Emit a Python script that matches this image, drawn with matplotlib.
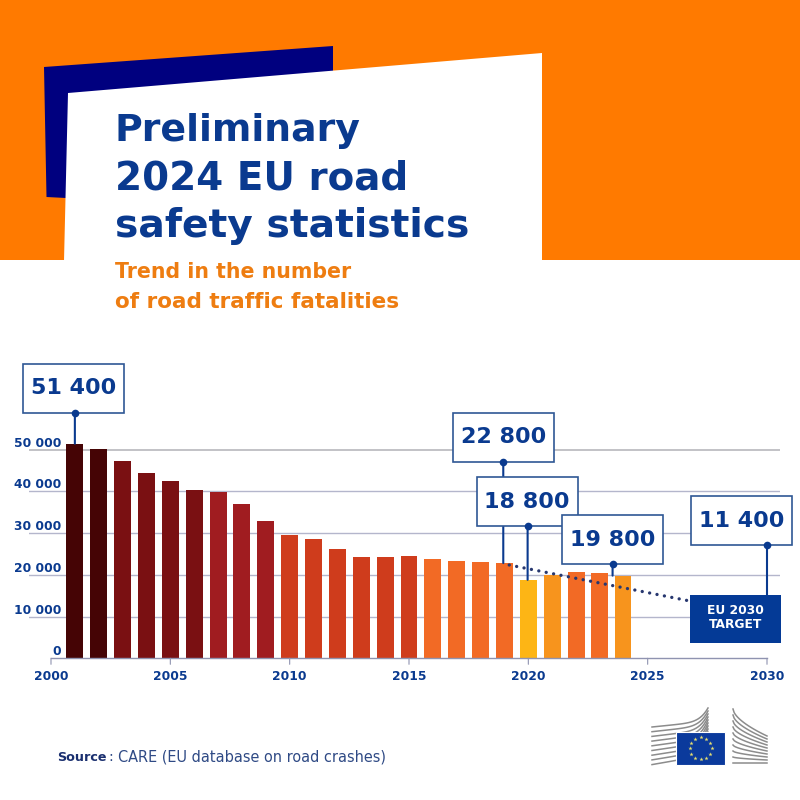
import numpy as np
import matplotlib
matplotlib.use('Agg')
import matplotlib.pyplot as plt
from matplotlib.patches import Polygon, Rectangle
from matplotlib.transforms import blended_transform_factory

# data
years = list(range(2001, 2025))
fatalities = [51400, 50200, 47250, 44460, 42470, 40310, 39830, 36880, 32800, 29600, 28500, 26180,
              24190, 24190, 24430, 23700, 23300, 23140, 22800, 18800, 19950, 20600, 20350, 19800]
bar_colors = ['#450405', '#450405',
              '#7a1012', '#7a1012', '#7a1012', '#7a1012',
              '#a01c20', '#a01c20', '#a01c20',
              '#cf3c1c', '#cf3c1c', '#cf3c1c', '#cf3c1c', '#cf3c1c', '#cf3c1c',
              '#f26a25', '#f26a25', '#f26a25', '#f26a25',
              '#fdb515', '#f7941d', '#f26a25', '#f26a25', '#f7941d']
trend_years = [2019.2, 2026.7]
trend_values = [22350, 13800]
x_ticks = [2000, 2005, 2010, 2015, 2020, 2025, 2030]
y_ticks = [0, 10000, 20000, 30000, 40000, 50000]
y_tick_labels = ['0', '10 000', '20 000', '30 000', '40 000', '50 000']

callout_labels = ['51 400', '22 800', '18 800', '19 800', '11 400']
callout_years = [2001, 2018.95, 2019.97, 2023.53, 2030]
callout_values = [51400, 22800, 18800, 19800, 11400]

blue = '#0a3a8f'
navy = '#00007f'
orange = '#ff7a00'
sub_orange = '#ee7d11'
font = 'DejaVu Sans'

plt.rcParams['font.family'] = [font]
fig = plt.figure(figsize=(8, 8), dpi=100, facecolor='white')

# page background, in pixels
bg = fig.add_axes([0, 0, 1, 1], zorder=0)
bg.set_xlim(0, 800)
bg.set_ylim(800, 0)
bg.axis('off')
bg.add_patch(Rectangle((0, 0), 800, 260, color=orange, lw=0))
bg.add_patch(Polygon([(44, 67), (333, 46), (333, 90), (66, 198), (46.5, 197)], color=navy, lw=0))
bg.add_patch(Polygon([(64, 261), (68, 93), (542, 53), (542, 261)], color='white', lw=0))

bg.text(115, 141, 'Preliminary', color=blue, fontsize=27.3, fontweight='bold', va='baseline')
bg.text(115, 189, '2024 EU road', color=blue, fontsize=28, fontweight='bold', va='baseline')
bg.text(115, 237, 'safety statistics', color=blue, fontsize=28.3, fontweight='bold', va='baseline')
bg.text(115, 278, 'Trend in the number', color=sub_orange, fontsize=14.8, fontweight='bold', va='baseline')
bg.text(115, 308, 'of road traffic fatalities', color=sub_orange, fontsize=15.5, fontweight='bold', va='baseline')

# chart
ax = fig.add_axes([29 / 800, 1 - 658.3 / 800, 751 / 800, 308.3 / 800], zorder=1)
ax.patch.set_alpha(0)
ax.set_xlim(2000 - 22 / 23.87, 2030 + 13 / 23.87)
ax.set_ylim(0, 308.3 / 41.75 * 10000)
for s in ['top', 'left', 'right', 'bottom']:
    ax.spines[s].set_visible(False)
ax.set_xticks([])
ax.set_yticks([])

for v in y_ticks[1:]:
    c = '#bdbdc2' if v == 50000 else '#b4b6cc'
    ax.axhline(v, color=c, lw=1.3 if v == 50000 else 1.0, zorder=1)

widths = [0.71] * 23 + [0.66]
lefts = [y - 0.355 for y in years]
ax.bar(lefts, fatalities, width=widths, align='edge', color=bar_colors, zorder=2)

# x axis
ax.plot([x_ticks[0], x_ticks[-1]], [0, 0], color='#8f93b0', lw=1.0, zorder=3, clip_on=False)
tick_tr = ax.get_xaxis_transform()
for x in x_ticks:
    ax.annotate('', xy=(x, 0), xytext=(0, -6), textcoords='offset pixels', xycoords=tick_tr,
                arrowprops=dict(arrowstyle='-', color='#8f93b0', lw=0.8, shrinkA=0, shrinkB=0))
    ax.annotate(str(x), xy=(x, 0), xytext=(0, -22), textcoords='offset pixels', xycoords=tick_tr,
                ha='center', va='baseline', color=blue, fontsize=8.8, fontweight='bold', annotation_clip=False)

# y labels sit above the gridlines
for v, lab in zip(y_ticks, y_tick_labels):
    ax.annotate(lab, xy=(2000, v), xytext=(10, 3), textcoords='offset pixels', ha='right', va='baseline',
                color=blue, fontsize=8.8, fontweight='bold', annotation_clip=False)

ax.plot(trend_years, trend_values, color='#27376f', lw=2.4, linestyle=(0, (0.01, 2.25)),
        dash_capstyle='round', zorder=4)

# callouts on top of everything
top = fig.add_axes([0, 0, 1, 1], zorder=2)
top.set_xlim(0, 800)
top.set_ylim(800, 0)
top.axis('off')
blend = blended_transform_factory(ax.transData, top.transData)

box_left = [23, 452.7, 476.7, 562.3, 690.7]
box_top = [364, 412.7, 477, 515, 496.3]
box_w = 101
box_h = 49
z = 5
for i in range(len(callout_labels)):
    yb = box_top[i] + box_h
    x = callout_years[i]
    top.annotate('', xy=(x, callout_values[i]), xycoords=ax.transData, xytext=(x, yb), textcoords=blend,
                 arrowprops=dict(arrowstyle='-', color=blue, lw=1.5, shrinkA=0, shrinkB=0), zorder=z)
    top.add_patch(Rectangle((box_left[i], box_top[i]), box_w, box_h, fc='white', ec='#2f5795', lw=1.2, zorder=z + 1))
    top.text(box_left[i] + box_w / 2, box_top[i] + box_h / 2, callout_labels[i], ha='center', va='center',
             color=blue, fontsize=16, fontweight='bold', zorder=z + 2)
    top.plot([x], [yb], 'o', ms=5.5, color=blue, mew=0, transform=blend, zorder=z + 3)
    z += 4

top.add_patch(Rectangle((690.3, 595), 90.4, 47.7, color='#043a96', lw=0, zorder=z))
top.text(735.5, 610, 'EU 2030', color='white', fontsize=8.8, fontweight='bold', ha='center', va='center', zorder=z + 1)
top.text(735.5, 625, 'TARGET', color='white', fontsize=8.8, fontweight='bold', ha='center', va='center', zorder=z + 1)

# source
bg.text(57, 761, 'Source', color='#1a2f6f', fontsize=9.2, fontweight='bold', va='baseline')
bg.text(108, 761, ':', color='#2f4a85', fontsize=10.4, va='baseline')
bg.text(118, 761, 'CARE (EU database on road crashes)', color='#2f4a85', fontsize=10.45, va='baseline')

# EC logo
grey = '#8c8c8c'
t = np.linspace(0, 1, 30)
for k in range(9):
    y0 = 727 + k * 4.7
    y1 = 708 + k * 3
    xs = 652 + 56 * t
    ys = y0 + (y1 - y0) * (0.3 * t + 0.7 * t ** 7)
    bg.plot(xs, ys, color=grey, lw=1.1)
for k in range(10):
    xs = 733 + 34 * t
    ys = 709 + k * 6 + (27 - k * 3) * t ** 0.6
    bg.plot(xs, ys, color=grey, lw=1.1)
bg.add_patch(Rectangle((675.7, 731.7), 49.6, 33.3, fc='#0b3a9c', ec='white', lw=0.8, zorder=5))
ang = np.arange(12) * np.pi / 6
bg.scatter(700.5 + 11 * np.cos(ang), 748.3 + 11 * np.sin(ang), s=10, marker='*', color='#e8e070', lw=0, zorder=6)

fig.savefig('out.png', dpi=100)
